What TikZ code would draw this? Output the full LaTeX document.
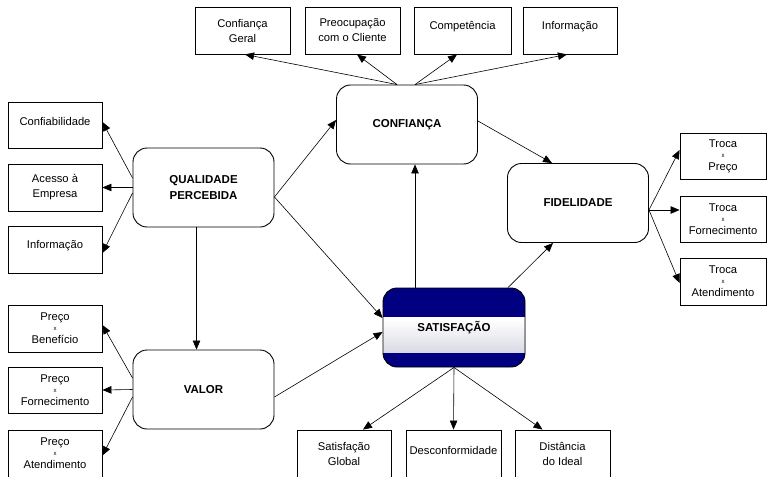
\documentclass[tikz,border=0pt]{standalone}
\usepackage{fontspec}
\setmainfont{Liberation Sans}
\usetikzlibrary{arrows.meta}
\definecolor{satnavy}{HTML}{000080}
\definecolor{satlight}{HTML}{ECECF3}
\definecolor{satdark}{HTML}{9696B2}
\pgfdeclareverticalshading{satband}{100bp}{color(0bp)=(satdark); color(30bp)=(satlight!70!satdark); color(55bp)=(white); color(85bp)=(satlight); color(100bp)=(satlight)}
\newcommand{\smx}{{\fontsize{6}{6}\selectfont x}}
\newcommand{\up}[1]{\raisebox{4pt}[\height][\depth]{#1}}
\begin{document}
\begin{tikzpicture}[x=1pt,y=-1pt,
  sbox/.style={draw, line width=0.9pt, inner sep=0pt, align=center,
    font=\fontsize{11.2}{15}\selectfont},
  mainbox/.style={draw, line width=0.9pt, rounded corners=14pt, inner sep=0pt,
    align=center, minimum width=141pt, minimum height=79pt,
    font=\bfseries\fontsize{11.5}{16}\selectfont},
  arr/.style={line width=0.6pt, -{Triangle[length=9pt,width=7.5pt]}}]
\useasboundingbox (0,0) rectangle (767,476);

% top boxes
\node[sbox, minimum width=95pt, minimum height=47pt] (cg) at (242.5,30.5) {Confiança\\Geral};
\node[sbox, minimum width=95pt, minimum height=47pt] (pc) at (352.5,30.5) {Preocupação\\com o Cliente};
\node[sbox, minimum width=97pt, minimum height=47pt] (cp) at (462.5,30.5) {\up{Competência}};
\node[sbox, minimum width=94pt, minimum height=47pt] (inf) at (570,30.5) {\up{Informação}};

% main boxes
\node[mainbox] (confi) at (407,124.5) {CONFIANÇA};
\node[mainbox] (qp) at (203.5,187.5) {QUALIDADE\\PERCEBIDA};
\node[mainbox] (val) at (203.5,389.5) {VALOR};
\node[mainbox] (fid) at (578,203) {FIDELIDADE};
\node[mainbox, draw=black, fill=satnavy, minimum width=142pt,
  path picture={\shade[sharp corners, shading=satband]
    ([yshift=-29pt]path picture bounding box.north west) rectangle
    ([yshift=15pt]path picture bounding box.south east);}] (sat) at (454,327.5) {SATISFAÇÃO};

% left boxes
\node[sbox, minimum width=94pt, minimum height=46pt] (cfb) at (55,125) {\up{Confiabilidade}};
\node[sbox, minimum width=94pt, minimum height=47pt] (acc) at (55,187.5) {Acesso à\\Empresa};
\node[sbox, minimum width=94pt, minimum height=47pt] (inf2) at (55,249.5) {\up{Informação}};
\node[sbox, minimum width=94pt, minimum height=47pt] (pb) at (55,328.5) {Preço\\[-5pt]\smx\\[-2pt]Benefício};
\node[sbox, minimum width=94pt, minimum height=46pt] (pf) at (55,390) {Preço\\[-5pt]\smx\\[-2pt]Fornecimento};
\node[sbox, minimum width=94pt, minimum height=47pt] (pa) at (55,453.5) {Preço\\[-5pt]\smx\\[-2pt]Atendimento};

% right boxes
\node[sbox, minimum width=86pt, minimum height=46pt] (tp) at (723,156) {Troca\\[-5pt]\smx\\[-2pt]Preço};
\node[sbox, minimum width=86pt, minimum height=46pt] (tf) at (723,219) {Troca\\[-5pt]\smx\\[-2pt]Fornecimento};
\node[sbox, minimum width=86pt, minimum height=47pt] (ta) at (723,281.5) {Troca\\[-5pt]\smx\\[-2pt]Atendimento};

% bottom boxes
\node[sbox, minimum width=94pt, minimum height=48pt] (sg) at (344,454) {Satisfação\\Global};
\node[sbox, minimum width=95pt, minimum height=48pt] (desc) at (453.5,454) {\up{Desconformidade}};
\node[sbox, minimum width=95pt, minimum height=48pt] (dist) at (562.5,454) {Distância\\do Ideal};

% connectors from CONFIANÇA to top boxes
\draw[arr] ([xshift=-10pt]confi.north) -- ([xshift=2.5pt]cg.south);
\draw[arr] ([xshift=-10pt]confi.north) -- ([xshift=4.5pt]pc.south);
\draw[arr] ([xshift=8pt]confi.north) -- ([xshift=-5.5pt]cp.south);
\draw[arr] ([xshift=8pt]confi.north) -- ([xshift=-3pt]inf.south);

% QUALIDADE PERCEBIDA
\draw[arr] ([yshift=9.5pt]qp.west) -- ([yshift=3pt]cfb.east);
\draw[arr] (qp.west) -- (acc.east);
\draw[arr] ([yshift=-5.5pt]qp.west) -- ([yshift=-3.5pt]inf2.east);
\draw[arr] ([xshift=-7pt]qp.south) -- ([xshift=-7pt]val.north);
\draw[arr] ([yshift=-9.5pt]qp.east) -- ([yshift=4.5pt]confi.west);
\draw[arr] ([yshift=-9.5pt]qp.east) -- ([yshift=9.5pt]sat.west);

% VALOR
\draw[arr] ([yshift=11.5pt]val.west) -- ([yshift=3.5pt]pb.east);
\draw[arr] (val.west) -- (pf.east);
\draw[arr] ([yshift=-7.5pt]val.west) -- ([yshift=-2pt]pa.east);
\draw[arr] ([yshift=-7.5pt]val.east) -- ([yshift=-4.5pt]sat.west);

% SATISFAÇÃO
\draw[arr] ([xshift=-39pt]sat.north) -- ([xshift=-39pt]sat.north |- confi.south);
\draw[arr] ([xshift=54pt]sat.north) -- ([xshift=-25pt]fid.south);
\draw[arr] (sat.south) -- ([xshift=19pt]sg.north);
\draw[arr] (sat.south) -- (desc.north);
\draw[arr] (sat.south) -- ([xshift=-20pt]dist.north);

% CONFIANÇA to FIDELIDADE
\draw[arr] ([yshift=3.5pt]confi.east) -- ([xshift=-26pt]fid.north);

% FIDELIDADE to right boxes
\draw[arr] ([yshift=-7pt]fid.east) -- ([yshift=6pt]tp.west);
\draw[arr] ([yshift=-7pt]fid.east) -- ([yshift=9pt]tf.west);
\draw[arr] ([yshift=-7pt]fid.east) -- ([yshift=-1.5pt]ta.west);
\end{tikzpicture}
\end{document}
